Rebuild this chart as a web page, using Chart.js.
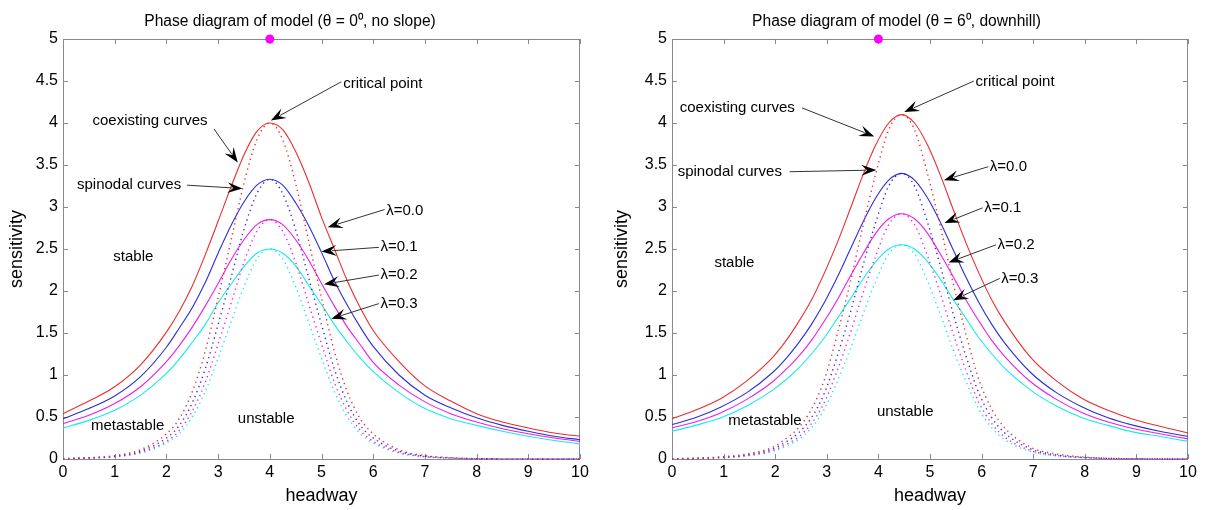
<!DOCTYPE html>
<html><head><meta charset="utf-8">
<script src="https://cdn.jsdelivr.net/npm/chart.js@4.4.1/dist/chart.umd.min.js"></script>
<style>
html,body{margin:0;padding:0;background:#fff;}
#wrap{position:relative;width:1211px;height:510px;overflow:hidden;}
#c1{position:absolute;left:0;top:0;}
#c2{position:absolute;left:605px;top:0;}
</style></head><body>
<div id="wrap"><canvas id="c1" width="605" height="510"></canvas><canvas id="c2" width="606" height="510"></canvas></div>
<script>
// ---------- data: left panel (theta = 0, no slope) ----------
const headwayL = [0,0.5,1,1.5,2,2.25,2.5,2.75,3,3.25,3.5,3.75,4,4.25,4.5,4.75,5,5.25,5.5,5.75,6,6.5,7,7.5,8,8.5,9,9.5,10];
const coexL00 = [0.54,0.69,0.86,1.12,1.51,1.76,2.06,2.43,2.83,3.24,3.62,3.90,4.00,3.92,3.66,3.30,2.88,2.50,2.12,1.80,1.53,1.16,0.87,0.69,0.54,0.44,0.37,0.31,0.27];
const coexL01 = [0.48,0.60,0.75,0.98,1.33,1.56,1.80,2.10,2.45,2.78,3.06,3.26,3.33,3.26,3.05,2.78,2.46,2.12,1.83,1.57,1.34,1.00,0.76,0.61,0.49,0.40,0.33,0.27,0.23];
const coexL02 = [0.42,0.52,0.66,0.86,1.16,1.35,1.57,1.82,2.09,2.37,2.61,2.79,2.85,2.79,2.61,2.37,2.09,1.82,1.57,1.36,1.15,0.88,0.68,0.54,0.44,0.36,0.30,0.25,0.21];
const coexL03 = [0.37,0.46,0.58,0.76,1.02,1.19,1.39,1.60,1.86,2.08,2.29,2.45,2.50,2.45,2.30,2.07,1.84,1.60,1.39,1.20,1.04,0.79,0.60,0.48,0.40,0.33,0.27,0.22,0.18];
const spinL00 = [0.004,0.016,0.04,0.11,0.30,0.48,0.80,1.28,1.92,2.60,3.28,3.80,4.00,3.80,3.28,2.60,1.92,1.28,0.80,0.48,0.30,0.11,0.04,0.016,0.004,0.002,0.001,0,0];
const spinL01 = [0.003,0.013,0.033,0.093,0.25,0.40,0.67,1.07,1.60,2.16,2.73,3.16,3.33,3.16,2.73,2.16,1.60,1.07,0.67,0.40,0.25,0.093,0.033,0.013,0.003,0.002,0.001,0,0];
const spinL02 = [0.003,0.011,0.029,0.08,0.21,0.34,0.57,0.91,1.37,1.85,2.34,2.71,2.85,2.71,2.34,1.85,1.37,0.91,0.57,0.34,0.21,0.08,0.029,0.011,0.003,0.002,0.001,0,0];
const spinL03 = [0.0025,0.01,0.025,0.07,0.19,0.30,0.50,0.80,1.20,1.63,2.05,2.38,2.50,2.38,2.05,1.63,1.20,0.80,0.50,0.30,0.19,0.07,0.025,0.01,0.0025,0.002,0.001,0,0];

// ---------- data: right panel (theta = 6, downhill) ----------
const headwayR = [0,0.45,0.95,1.45,1.95,2.2,2.45,2.7,2.95,3.2,3.45,3.7,3.95,4.2,4.45,4.7,4.95,5.2,5.45,5.7,5.95,6.2,6.45,6.95,7.45,7.95,8.45,8.95,9.45,10];
const coexR00 = [0.48,0.58,0.72,0.93,1.21,1.40,1.63,1.89,2.21,2.57,2.97,3.38,3.74,4.00,4.10,4.00,3.74,3.38,2.97,2.57,2.21,1.89,1.63,1.21,0.93,0.72,0.58,0.47,0.39,0.31];
const coexR01 = [0.41,0.49,0.62,0.79,1.03,1.19,1.38,1.60,1.86,2.16,2.49,2.82,3.11,3.32,3.40,3.32,3.11,2.82,2.49,2.16,1.86,1.60,1.38,1.03,0.79,0.62,0.49,0.40,0.33,0.27];
const coexR02 = [0.37,0.44,0.55,0.71,0.92,1.06,1.22,1.41,1.64,1.89,2.17,2.44,2.69,2.86,2.92,2.86,2.69,2.44,2.17,1.89,1.64,1.41,1.22,0.92,0.71,0.55,0.44,0.36,0.30,0.24];
const coexR03 = [0.33,0.40,0.49,0.63,0.82,0.94,1.08,1.25,1.44,1.67,1.90,2.14,2.35,2.50,2.55,2.50,2.35,2.14,1.90,1.67,1.44,1.25,1.08,0.82,0.63,0.49,0.40,0.32,0.27,0.21];
const spinR00 = [0.004,0.008,0.025,0.06,0.14,0.24,0.37,0.59,0.94,1.48,2.09,2.77,3.40,3.92,4.10,3.92,3.40,2.77,2.09,1.48,0.94,0.59,0.37,0.14,0.06,0.025,0.008,0.004,0.001,0];
const spinR01 = [0.003,0.007,0.02,0.048,0.12,0.20,0.31,0.49,0.78,1.22,1.73,2.30,2.82,3.25,3.40,3.25,2.82,2.30,1.73,1.22,0.78,0.49,0.31,0.12,0.048,0.02,0.007,0.003,0.001,0];
const spinR02 = [0.003,0.006,0.018,0.041,0.10,0.17,0.26,0.42,0.67,1.05,1.49,1.97,2.42,2.79,2.92,2.79,2.42,1.97,1.49,1.05,0.67,0.42,0.26,0.10,0.041,0.018,0.006,0.003,0.001,0];
const spinR03 = [0.003,0.005,0.015,0.036,0.09,0.15,0.23,0.37,0.59,0.92,1.30,1.72,2.12,2.44,2.55,2.44,2.12,1.72,1.30,0.92,0.59,0.37,0.23,0.09,0.036,0.015,0.005,0.003,0.001,0];

// magenta marker
const markerPoint = {x:4, y:5};

// tick labels
const xTicks = [0,1,2,3,4,5,6,7,8,9,10];
const yTicks = [0,0.5,1,1.5,2,2.5,3,3.5,4,4.5,5];
const xTickLabels = ['0','1','2','3','4','5','6','7','8','9','10'];
const yTickLabels = ['0','0.5','1','1.5','2','2.5','3','3.5','4','4.5','5'];

const titleL = 'Phase diagram of model (\u03B8 = 0\u2070, no slope)';
const titleR = 'Phase diagram of model (\u03B8 = 6\u2070, downhill)';

// annotations (data coordinates)
const labelsL = [
  ['critical point',5.42,4.47,'left'],['coexisting curves',0.57,4.02,'left'],['spinodal curves',0.27,3.26,'left'],
  ['\u03BB=0.0',6.25,2.96,'left'],['\u03BB=0.1',6.14,2.52,'left'],['\u03BB=0.2',6.14,2.19,'left'],['\u03BB=0.3',6.14,1.85,'left'],
  ['stable',1.36,2.41,'center'],['metastable',1.25,0.40,'center'],['unstable',3.93,0.48,'center']
];
const arrowsL = [
  [5.38,4.49,4.02,4.03],[2.92,3.93,3.38,3.53],[2.40,3.26,3.47,3.22],
  [6.22,2.97,5.12,2.76],[6.11,2.52,5.00,2.47],[6.11,2.19,5.05,2.08],[6.11,1.85,5.19,1.67]
];
const labelsR = [
  ['critical point',5.88,4.49,'left'],['coexisting curves',0.15,4.18,'left'],['spinodal curves',0.11,3.42,'left'],
  ['\u03BB=0.0',6.16,3.48,'left'],['\u03BB=0.1',6.05,2.99,'left'],['\u03BB=0.2',6.31,2.55,'left'],['\u03BB=0.3',6.38,2.15,'left'],
  ['stable',1.21,2.34,'center'],['metastable',1.8,0.46,'center'],['unstable',4.52,0.56,'center']
];
const arrowsR = [
  [5.85,4.50,4.50,4.13],[2.52,4.18,3.92,3.84],[2.28,3.42,3.96,3.44],
  [6.13,3.48,5.27,3.32],[6.02,2.99,5.28,2.81],[6.28,2.55,5.36,2.34],[6.35,2.15,5.45,1.89]
];

const FONT = "'Liberation Sans', Arial, Helvetica, sans-serif";
const COL = {red:'rgb(235,45,45)', blue:'rgb(45,45,215)', mag:'rgb(235,30,235)', cyan:'rgb(20,235,235)'};

function lineDS(xs, ys, color, dotted){
  return {
    data: xs.map((x,i)=>({x:x, y:ys[i]})),
    borderColor: color, backgroundColor: color,
    borderWidth: dotted ? 1.4 : 1.1,
    borderDash: dotted ? [1.3,3.8] : [],
    pointRadius: 0, fill:false, cubicInterpolationMode:'monotone', clip: 2
  };
}

const framePlugin = {
  id:'frame',
  beforeDatasetsDraw(chart){
    const {ctx, chartArea:a, scales:{x,y}} = chart;
    ctx.save();
    ctx.strokeStyle = '#8a8a8a'; ctx.lineWidth = 1;
    ctx.strokeRect(Math.round(a.left)+0.5, Math.round(a.top)+0.5, Math.round(a.right-a.left)-1, Math.round(a.bottom-a.top));
    const tl = 5;
    ctx.beginPath();
    xTicks.forEach(v=>{
      const px = Math.round(x.getPixelForValue(v))+0.5;
      ctx.moveTo(px, a.bottom); ctx.lineTo(px, a.bottom-tl);
      ctx.moveTo(px, a.top); ctx.lineTo(px, a.top+tl);
    });
    yTicks.forEach(v=>{
      const py = Math.round(y.getPixelForValue(v))+0.5;
      ctx.moveTo(a.left, py); ctx.lineTo(a.left+tl, py);
      ctx.moveTo(a.right, py); ctx.lineTo(a.right-tl, py);
    });
    ctx.stroke();
    ctx.restore();
  }
};

function drawArrow(ctx, x0, y0, x1, y1){
  const ang = Math.atan2(y1-y0, x1-x0);
  const L = 15, W = 5.5;
  ctx.beginPath();
  ctx.moveTo(x0, y0);
  ctx.lineTo(x1 - L*0.7*Math.cos(ang), y1 - L*0.7*Math.sin(ang));
  ctx.stroke();
  ctx.save();
  ctx.translate(x1, y1); ctx.rotate(ang);
  ctx.beginPath();
  ctx.moveTo(0,0); ctx.lineTo(-L,-W); ctx.lineTo(-L*0.62,0); ctx.lineTo(-L,W); ctx.closePath();
  ctx.fill();
  ctx.restore();
}

function annotPlugin(labels, arrows){
  return {
    id:'annot',
    afterDraw(chart){
      const {ctx, scales:{x,y}} = chart;
      ctx.save();
      ctx.strokeStyle = '#333'; ctx.fillStyle = '#000'; ctx.lineWidth = 1;
      arrows.forEach(a=>drawArrow(ctx, x.getPixelForValue(a[0]), y.getPixelForValue(a[1]), x.getPixelForValue(a[2]), y.getPixelForValue(a[3])));
      ctx.font = '15px ' + FONT;
      ctx.textBaseline = 'middle';
      labels.forEach(l=>{
        ctx.textAlign = l[3];
        ctx.fillText(l[0], x.getPixelForValue(l[1]), y.getPixelForValue(l[2]));
      });
      ctx.restore();
    }
  };
}

function makeChart(id, xs, coex, spin, title, labels, arrows, yWidth, padRight){
  const colors = [COL.red, COL.blue, COL.mag, COL.cyan];
  const datasets = [];
  spin.forEach((s,i)=>datasets.push(lineDS(xs, s, colors[i], true)));
  coex.forEach((s,i)=>datasets.push(lineDS(xs, s, colors[i], false)));
  datasets.push({type:'scatter', data:[markerPoint], pointRadius:4.5, pointHoverRadius:4.5,
    backgroundColor:'#ff00ff', borderColor:'#ff00ff', borderWidth:0, showLine:false, clip:false});
  return new Chart(document.getElementById(id), {
    type:'line',
    data:{datasets},
    options:{
      responsive:false, animation:false, events:[],
      layout:{padding:{left:0, top:0, right:padRight, bottom:0}},
      plugins:{
        legend:{display:false}, tooltip:{enabled:false},
        title:{display:true, text:title, color:'#000', font:{family:FONT, size:15.6, weight:'normal'}, padding:{top:12, bottom:8.3}}
      },
      scales:{
        x:{type:'linear', min:0, max:10,
          grid:{display:false, drawTicks:false}, border:{display:false},
          afterBuildTicks:(s)=>{ s.ticks = xTicks.map(v=>({value:v})); },
          afterFit:(s)=>{ s.height = 51; },
          ticks:{color:'#000', font:{family:FONT, size:16}, padding:4, autoSkip:false, maxRotation:0,
            callback:(v,i)=>xTickLabels[i]},
          title:{display:true, text:'headway', color:'#000', font:{family:FONT, size:18}, padding:{top:0, bottom:3}}
        },
        y:{type:'linear', min:0, max:5,
          grid:{display:false, drawTicks:false}, border:{display:false},
          afterBuildTicks:(s)=>{ s.ticks = yTicks.map(v=>({value:v})); },
          afterFit:(s)=>{ s.width = yWidth; },
          ticks:{color:'#000', font:{family:FONT, size:16}, padding:5, autoSkip:false,
            callback:(v,i)=>yTickLabels[i]},
          title:{display:true, text:'sensitivity', color:'#000', font:{family:FONT, size:18}, padding:{top:6, bottom:0}}
        }
      }
    },
    plugins:[framePlugin, annotPlugin(labels, arrows)]
  });
}

makeChart('c1', headwayL, [coexL00,coexL01,coexL02,coexL03], [spinL00,spinL01,spinL02,spinL03], titleL, labelsL, arrowsL, 63, 25);
makeChart('c2', headwayR, [coexR00,coexR01,coexR02,coexR03], [spinR00,spinR01,spinR02,spinR03], titleR, labelsR, arrowsR, 67, 23);
</script>
</body></html>
